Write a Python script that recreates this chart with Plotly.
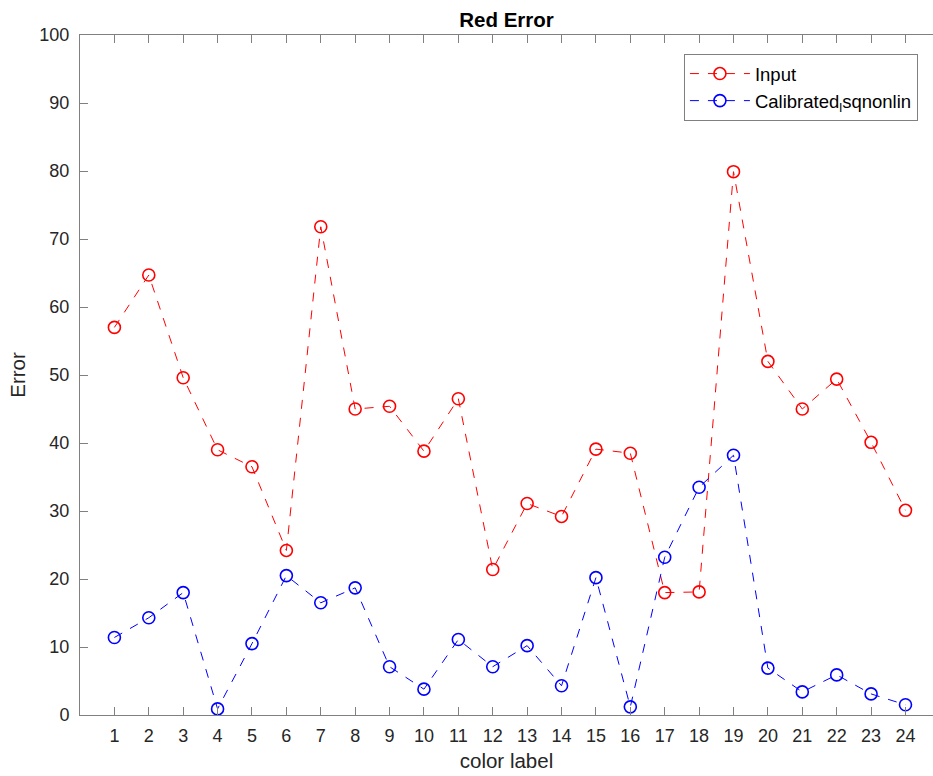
import plotly.graph_objects as go

labels = list(range(1, 25))
input_err = [57.0, 64.7, 49.6, 39.0, 36.5, 24.2, 71.8, 45.0, 45.4, 38.8, 46.5, 21.4,
             31.1, 29.2, 39.1, 38.5, 18.0, 18.1, 79.9, 52.0, 45.0, 49.4, 40.1, 30.1]
calib_err = [11.4, 14.3, 18.0, 0.9, 10.5, 20.5, 16.5, 18.7, 7.1, 3.8, 11.1, 7.1,
             10.2, 4.3, 20.2, 1.2, 23.2, 33.5, 38.2, 6.9, 3.4, 5.9, 3.1, 1.5]
y_ticks = list(range(0, 101, 10))

text_col = "#262626"
line_col = "#808080"
font_fam = "Liberation Sans, Arial, Helvetica, sans-serif"

fig = go.Figure()
fig.add_trace(go.Scatter(
    x=labels, y=input_err, mode="lines+markers", name="Input",
    line=dict(color="#ff0000", width=1, dash="dash"),
    marker=dict(symbol="circle-open", size=12, color="#ff0000", line=dict(width=1.6)),
))
fig.add_trace(go.Scatter(
    x=labels, y=calib_err, mode="lines+markers", name="Calibrated<sub>l</sub>sqnonlin",
    line=dict(color="#0000ff", width=1, dash="dash"),
    marker=dict(symbol="circle-open", size=12, color="#0000ff", line=dict(width=1.6)),
))

fig.update_layout(
    width=933, height=776,
    margin=dict(l=80, r=0, t=35, b=61),
    paper_bgcolor="white", plot_bgcolor="white",
    font=dict(family=font_fam, size=18, color=text_col),
    title=dict(text="<b>Red Error</b>", x=0.5, xanchor="center", xref="paper",
               y=0.974, yanchor="middle", font=dict(size=20.5, color="black")),
    showlegend=True,
    legend=dict(x=0.708, y=0.972, xanchor="left", yanchor="top",
                bordercolor=line_col, borderwidth=1, bgcolor="white",
                font=dict(size=18.5, color="black"),
                itemwidth=60, tracegroupgap=0),
    xaxis=dict(range=[0, 24.8], tickmode="array", tickvals=labels,
               ticktext=[str(v) for v in labels],
               ticks="inside", ticklen=8, tickcolor=line_col, tickwidth=1,
               showline=True, linecolor=line_col, linewidth=1, mirror="ticks",
               showgrid=False, zeroline=False, ticklabelstandoff=4,
               title=dict(text="color label", font=dict(size=20.5), standoff=9),
               tickfont=dict(size=18)),
    yaxis=dict(range=[0, 100], tickmode="array", tickvals=y_ticks,
               ticks="inside", ticklen=8, tickcolor=line_col, tickwidth=1,
               showline=True, linecolor=line_col, linewidth=1,
               showgrid=False, zeroline=False, ticklabelstandoff=6,
               title=dict(text="Error", font=dict(size=20.5), standoff=8),
               tickfont=dict(size=18)),
)

fig.write_html("out.html")
